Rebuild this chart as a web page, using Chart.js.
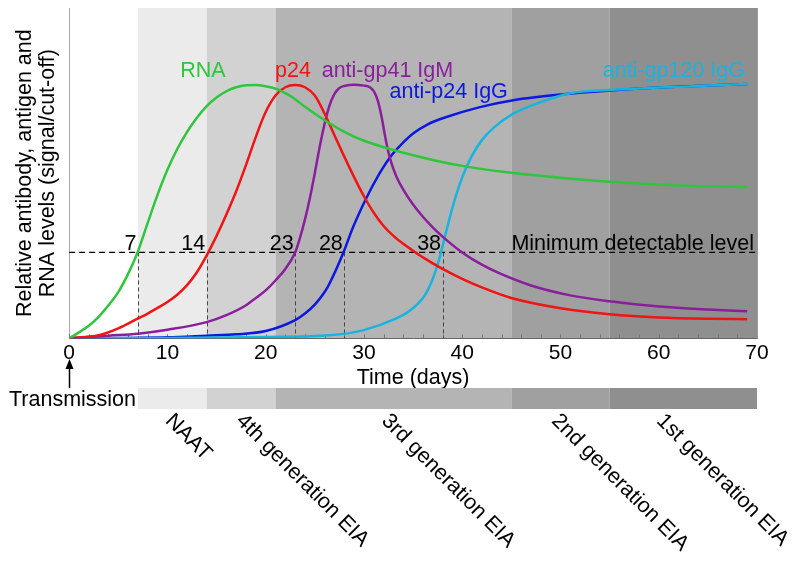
<!DOCTYPE html>
<html>
<head>
<meta charset="utf-8">
<script src="https://cdn.jsdelivr.net/npm/chart.js@4.4.0/dist/chart.umd.min.js"></script>
<style>
  html, body { margin: 0; padding: 0; background: #fff; }
  canvas { display: block; }
</style>
</head>
<body>
<canvas id="hiv_chart" width="800" height="561"></canvas>
<script>
// days after transmission, and the level (signal/cut-off, 0-100)
var rnaDays = [0, 1, 2, 3, 4, 5, 6, 7, 8, 9, 10, 11, 12, 13, 14, 15, 16, 17, 18, 19, 20, 21, 22, 23, 24, 26, 28, 30, 33, 37, 40, 45, 50, 55, 60, 65, 69];
var rnaLevels = [0, 1.8, 3.8, 6.5, 10, 14, 19.5, 26.3, 35, 43.5, 51, 57.3, 62.5, 66.8, 70.3, 72.9, 74.8, 76, 76.6, 76.7, 76.3, 75.6, 74.2, 72.4, 70.1, 66, 62.5, 59.8, 57, 54, 52.2, 50.1, 48.6, 47.4, 46.6, 46, 45.8];

var p24Days = [0, 3, 5, 7, 8, 9, 10, 11, 12, 13, 14, 15, 16, 17, 18, 19, 20, 21, 22, 23, 24, 25, 26, 27, 28, 29, 30, 31, 32, 33, 34, 35, 36, 38, 40, 42, 45, 50, 55, 60, 65, 69];
var p24Levels = [0, 0.9, 3, 6, 7.5, 9.2, 11, 13.2, 16.1, 20, 25.1, 31, 37.5, 44.5, 52.5, 61, 68.5, 73.5, 76, 76.7, 76, 73.5, 68, 61.5, 55, 48.8, 43, 38, 34, 31, 28.6, 26.5, 24.5, 21, 18, 15.4, 12.2, 9.1, 7.3, 6.3, 5.9, 5.8];

var igmDays = [0, 4, 7, 10, 14, 16, 18, 19, 20, 21, 22, 23, 23.5, 24, 24.5, 25, 25.5, 26, 26.5, 27, 27.5, 28, 29, 30, 30.6, 31, 31.4, 31.8, 32.1, 32.4, 32.8, 33.3, 34, 35, 36, 37, 38, 40, 42, 44, 47, 51, 55, 60, 65, 69];
var igmLevels = [0, 0.8, 1.4, 2.6, 4.9, 7, 10, 12.2, 14.5, 17.5, 21, 26, 30.5, 36, 42.5, 50, 58, 65, 70.5, 74, 75.8, 76.4, 76.8, 76.5, 76, 74.8, 72, 67, 62, 57.5, 53, 49, 45, 40.5, 36.8, 33.6, 30.8, 26, 22.3, 19.4, 16, 13, 11.2, 9.6, 8.7, 8.2];

var p24IgGDays = [0, 10, 14, 17, 20, 23, 24, 25, 26, 26.5, 27.9, 28.9, 30.3, 31.5, 32.7, 34, 35, 36.5, 38.4, 41.8, 45.2, 50.3, 55, 60, 65, 69];
var p24IgGLevels = [0, 0.3, 0.8, 1.2, 2.2, 5.5, 7.5, 10.2, 14, 16.6, 25.9, 33.7, 42.8, 49.5, 55, 59.3, 62, 64.8, 67, 70, 72.1, 73.9, 75, 75.9, 76.5, 77];

var gp120Days = [0, 10, 20, 26.5, 29.9, 33.3, 34.5, 35.5, 36.2, 36.8, 37.3, 37.8, 38.3, 38.8, 39.4, 40.1, 41, 42, 43.3, 45.2, 47.6, 51, 55, 60, 65, 69];
var gp120Levels = [0, 0.1, 0.4, 0.9, 2.4, 6, 8, 10.5, 13, 16.5, 20.5, 25.5, 31.5, 37.3, 43.5, 49.5, 55.3, 60, 64, 68, 71.1, 74.2, 75.2, 75.9, 76.5, 77];

var curveNames = ['RNA', 'p24', 'anti-gp41 IgM', 'anti-p24 IgG', 'anti-gp120 IgG'];
var thresholdLevel = 26;
var detectDays = [7, 14, 23, 28, 38];
var phaseEdges = [7, 14, 21, 45, 55, 70];
var phaseNames = ['NAAT', '4th generation EIA', '3rd generation EIA', '2nd generation EIA', '1st generation EIA'];

var FONT = "'Liberation Sans', Arial, sans-serif";
var TEXT = '21.5px ' + FONT;
var curveColors = ['#2ec63c', '#f01414', '#8a1e9c', '#0a18e0', '#18b4e0'];
var phaseColors = ['#ebebeb', '#d2d2d2', '#b4b4b4', '#a0a0a0', '#8f8f8f'];

function toPoints(days, levels) {
    return days.map(function (d, i) { return { x: d, y: levels[i] }; });
}

function lineSet(label, days, levels, color) {
    return {
        label: label,
        data: toPoints(days, levels),
        borderColor: color,
        borderWidth: 2.5,
        pointRadius: 0,
        fill: false,
        cubicInterpolationMode: 'monotone'
    };
}

var figurePlugin = {
    id: 'figure',
    beforeDraw: function (chart) {
        var ctx = chart.ctx, a = chart.chartArea, xs = chart.scales.x;
        ctx.save();
        // test window bands behind the curves
        for (var i = 0; i < phaseNames.length; i++) {
            var x0 = xs.getPixelForValue(phaseEdges[i]);
            var x1 = xs.getPixelForValue(phaseEdges[i + 1]);
            ctx.fillStyle = phaseColors[i];
            ctx.fillRect(x0, a.top, x1 - x0, a.bottom - a.top);
        }
        ctx.restore();
    },
    beforeDatasetsDraw: function (chart) {
        var ctx = chart.ctx, a = chart.chartArea, xs = chart.scales.x, ys = chart.scales.y;
        var ty = ys.getPixelForValue(thresholdLevel);
        ctx.save();
        // minor ticks every 2 days
        ctx.strokeStyle = '#777';
        ctx.lineWidth = 1;
        for (var d = 0; d <= 70; d += 2) {
            var px = Math.round(xs.getPixelForValue(d)) + 0.5;
            ctx.beginPath();
            ctx.moveTo(px, a.bottom);
            ctx.lineTo(px, a.bottom - 4);
            ctx.stroke();
        }
        // right frame
        ctx.strokeStyle = '#9a9a9a';
        ctx.beginPath();
        ctx.moveTo(a.right + 0.5, a.top);
        ctx.lineTo(a.right + 0.5, a.bottom);
        ctx.stroke();
        // drop lines from the detection points
        ctx.strokeStyle = '#444';
        ctx.setLineDash([4, 3]);
        detectDays.forEach(function (d) {
            var px = Math.round(xs.getPixelForValue(d)) + 0.5;
            ctx.beginPath();
            ctx.moveTo(px, ty);
            ctx.lineTo(px, a.bottom);
            ctx.stroke();
        });
        // minimum detectable level
        ctx.strokeStyle = '#000';
        ctx.lineWidth = 1.3;
        ctx.setLineDash([6, 4]);
        ctx.beginPath();
        ctx.moveTo(a.left, ty);
        ctx.lineTo(a.right, ty);
        ctx.stroke();
        ctx.restore();
    },
    afterDatasetsDraw: function (chart) {
        var ctx = chart.ctx, a = chart.chartArea, xs = chart.scales.x, ys = chart.scales.y;
        var ty = ys.getPixelForValue(thresholdLevel);
        ctx.save();
        ctx.font = TEXT;
        ctx.textBaseline = 'alphabetic';
        ctx.fillStyle = '#000';
        ctx.textAlign = 'right';
        detectDays.forEach(function (d) {
            ctx.fillText(String(d), xs.getPixelForValue(d) - 1.5, ty - 2);
        });
        ctx.fillText('Minimum detectable level', a.right - 3, ty - 2);
        // curve names (layout: left day, baseline level)
        var at = [[11.3, 79], [20.95, 79], [25.7, 79], [32.6, 72.7], [54.3, 79]];
        ctx.textAlign = 'left';
        curveNames.forEach(function (name, i) {
            ctx.fillStyle = curveColors[i];
            ctx.fillText(name, xs.getPixelForValue(at[i][0]), ys.getPixelForValue(at[i][1]));
        });
        ctx.restore();
    },
    afterDraw: function (chart) {
        var ctx = chart.ctx, xs = chart.scales.x;
        var stripTop = 388, stripBottom = 409;
        ctx.save();
        for (var i = 0; i < phaseNames.length; i++) {
            var x0 = xs.getPixelForValue(phaseEdges[i]);
            var x1 = xs.getPixelForValue(phaseEdges[i + 1]);
            ctx.fillStyle = phaseColors[i];
            ctx.fillRect(x0, stripTop, x1 - x0, stripBottom - stripTop);
        }
        // transmission arrow at day 0
        var x0p = Math.round(xs.getPixelForValue(0)) + 0.5;
        ctx.strokeStyle = '#000';
        ctx.fillStyle = '#000';
        ctx.lineWidth = 1.5;
        ctx.beginPath();
        ctx.moveTo(x0p, 388);
        ctx.lineTo(x0p, 366);
        ctx.stroke();
        ctx.beginPath();
        ctx.moveTo(x0p, 359);
        ctx.lineTo(x0p - 4, 369);
        ctx.lineTo(x0p + 4, 369);
        ctx.closePath();
        ctx.fill();
        ctx.font = TEXT;
        ctx.textAlign = 'left';
        ctx.textBaseline = 'alphabetic';
        ctx.fillText('Transmission', 9, 406);
        // slanted phase names (layout: day of the top-left corner)
        var labelDay = [10.9, 18.1, 32.9, 50.2, 60.9];
        ctx.textBaseline = 'top';
        phaseNames.forEach(function (name, i) {
            ctx.save();
            ctx.translate(xs.getPixelForValue(labelDay[i]), 410);
            ctx.rotate(Math.PI / 4);
            ctx.fillText(name, 0, 0);
            ctx.restore();
        });
        ctx.restore();
    }
};

var ctx = document.getElementById('hiv_chart');
var myChart = new Chart(ctx, {
    type: 'line',
    data: {
        datasets: [
            lineSet(curveNames[0], rnaDays, rnaLevels, curveColors[0]),
            lineSet(curveNames[1], p24Days, p24Levels, curveColors[1]),
            lineSet(curveNames[2], igmDays, igmLevels, curveColors[2]),
            lineSet(curveNames[4], gp120Days, gp120Levels, curveColors[4]),
            lineSet(curveNames[3], p24IgGDays, p24IgGLevels, curveColors[3])
        ]
    },
    options: {
        responsive: false,
        animation: false,
        layout: { padding: { top: 8, right: 43, bottom: 172, left: 14 } },
        plugins: {
            legend: { display: false },
            tooltip: { enabled: false }
        },
        scales: {
            x: {
                type: 'linear',
                min: 0,
                max: 70,
                grid: { display: false, drawTicks: false },
                border: { display: true, color: '#666', width: 1 },
                ticks: {
                    stepSize: 10,
                    padding: 2,
                    color: '#000',
                    font: { family: FONT, size: 21 },
                    maxRotation: 0
                },
                title: {
                    display: true,
                    text: 'Time (days)',
                    color: '#000',
                    font: { family: FONT, size: 21.5, lineHeight: 1.0 },
                    padding: { top: 0, bottom: 0 }
                }
            },
            y: {
                min: 0,
                max: 100,
                grid: { display: false, drawTicks: false },
                border: { display: true, color: '#aaa', width: 1 },
                ticks: { display: false },
                title: {
                    display: true,
                    text: ['Relative antibody, antigen and', 'RNA levels (signal/cut-off)'],
                    color: '#000',
                    font: { family: FONT, size: 21.5, lineHeight: 1.05 },
                    padding: { top: 0, bottom: 10 }
                }
            }
        }
    },
    plugins: [figurePlugin]
});
</script>
</body>
</html>
